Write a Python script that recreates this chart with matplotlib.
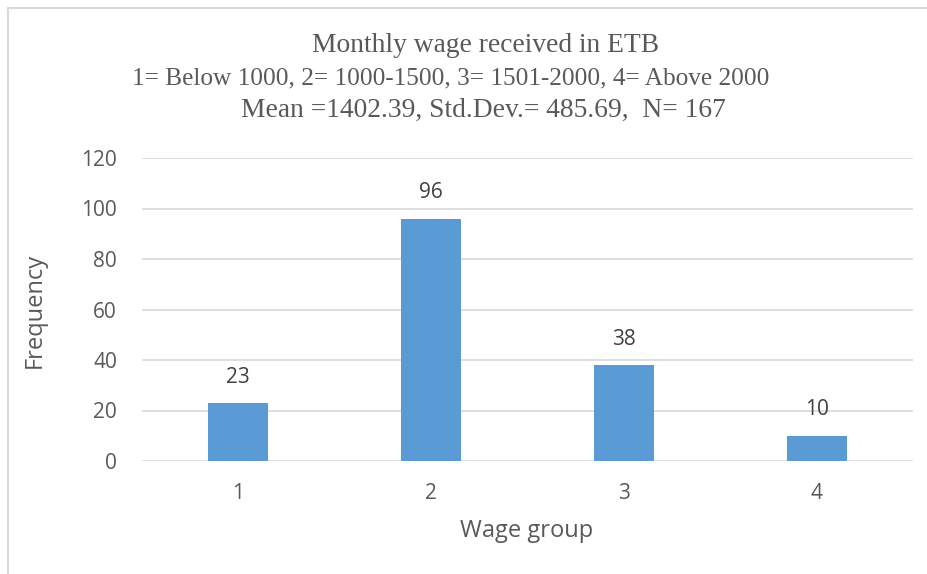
import matplotlib.pyplot as plt
from matplotlib.lines import Line2D

groups = ["1", "2", "3", "4"]
counts = [23, 96, 38, 10]
title_lines = [
    "Monthly wage received in ETB",
    "1= Below 1000, 2= 1000-1500, 3= 1501-2000, 4= Above 2000",
    "Mean =1402.39, Std.Dev.= 485.69,  N= 167",
]

text_col = "#595959"
bar_col = "#5B9BD5"
grid_col = "#D9D9D9"

W, H = 928, 574
fig = plt.figure(figsize=(W / 100, H / 100), dpi=100)
ax = fig.add_axes([142 / W, 1 - 461 / H, 771 / W, 303 / H])

x = range(len(groups))
bars = ax.bar(x, counts, width=0.31, color=bar_col, zorder=3)
for b, v in zip(bars, counts):
    ax.annotate(str(v), (b.get_x() + b.get_width() / 2, v), xytext=(0, 11),
                textcoords="offset points", ha="center", va="bottom",
                fontsize=15, color="#404040", family="Open Sans", zorder=4)

ax.set_xlim(-0.5, 3.5)
ax.set_ylim(0, 120)
ax.set_yticks(range(0, 121, 20))
ax.set_xticks(list(x))
ax.set_xticklabels(groups)
ax.yaxis.grid(True, color=grid_col, linewidth=1.2, zorder=0)
for s in ax.spines.values():
    s.set_visible(False)
ax.tick_params(length=0, labelsize=15, labelcolor=text_col)
ax.tick_params(axis="y", pad=18)
ax.tick_params(axis="x", pad=16)
for lab in ax.get_xticklabels() + ax.get_yticklabels():
    lab.set_family("Open Sans")

fig.text(35 / W, 1 - 310 / H, "Frequency", rotation=90, ha="center", va="center",
         fontsize=17, color=text_col, family="Open Sans")
fig.text(527 / W, 1 - 531 / H, "Wage group", ha="center", va="center",
         fontsize=17, color=text_col, family="Open Sans")

# title lines, centred as in the reference
title_x = [486, 451, 483]
title_y = [46, 78, 110]
title_size = [19.8, 18.2, 19.8]
for line, tx, ty, fs in zip(title_lines, title_x, title_y, title_size):
    fig.text(tx / W, 1 - ty / H, line, ha="center", va="center",
             fontsize=fs, color=text_col, family="Liberation Serif")

# chart frame (left and top edges visible)
fig.add_artist(Line2D([8 / W, 8 / W], [0, 1 - 8 / H], color=grid_col,
                      linewidth=1.5, transform=fig.transFigure))
fig.add_artist(Line2D([8 / W, 1], [1 - 8 / H, 1 - 8 / H], color=grid_col,
                      linewidth=1.5, transform=fig.transFigure))

fig.savefig("out.png", dpi=100)
